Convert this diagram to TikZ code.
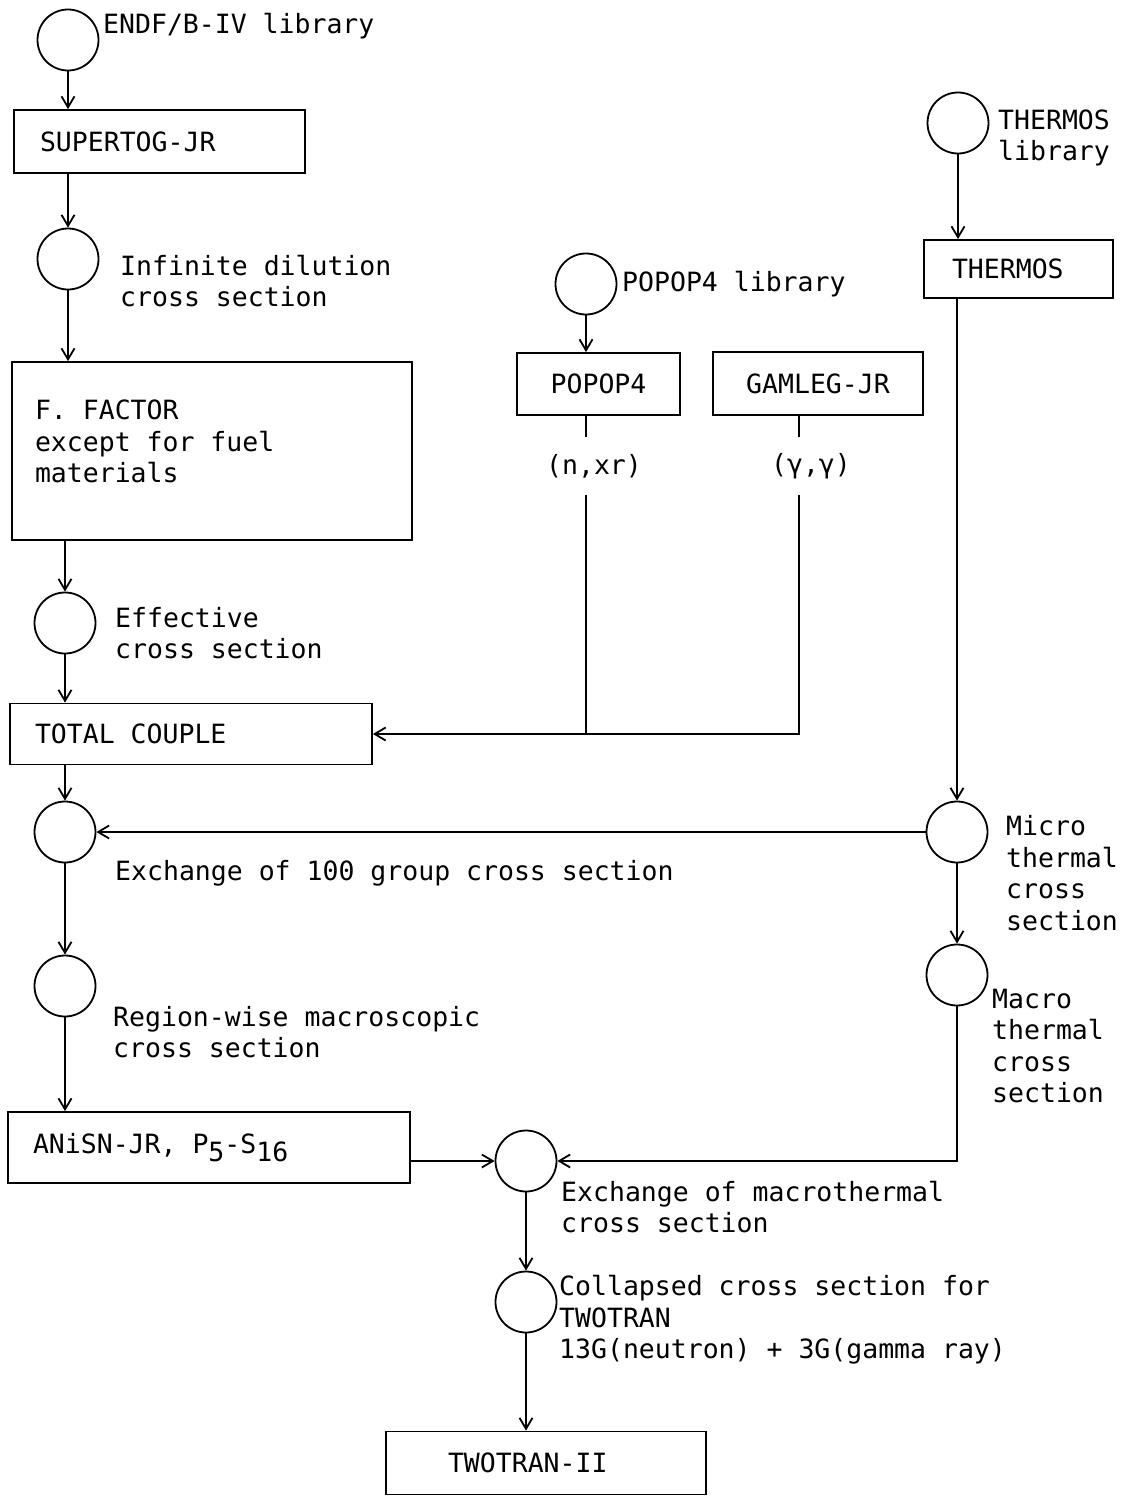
\documentclass[tikz,border=0pt]{standalone}
\usepackage{fontspec}
\newfontfamily\monof[WordSpace={1,0,0}]{DejaVu Sans Mono}
\usetikzlibrary{arrows.meta}
\newcommand\fixsp{\spaceskip=0pt\xspaceskip=0pt\frenchspacing\relax}
\begin{document}
\begin{tikzpicture}[x=1pt,y=-1pt,
 every node/.style={font=\monof\fontsize{26.5}{31.5}\selectfont},
 ln/.style={line width=1.8pt},
 arr/.style={ln,-{Straight Barb[length=11pt,width=13pt]}},
 circ/.style={draw,ln,circle,minimum size=61pt,inner sep=0pt},
 box/.style={draw,ln,inner sep=0pt,align=left},
 lbl/.style={anchor=west,align=left,inner sep=0pt}]
\useasboundingbox (0,0) rectangle (1125,1496);
% left column
\node[circ] (c1) at (68,40) {};
\node[lbl] (t1) at (103,26) {ENDF/B-IV library};
\node[box,minimum width=291,minimum height=63,text width=239,inner xsep=26] (sup) at (159.5,141.5) {\fixsp SUPERTOG-JR};
\node[circ] (c2) at (68,259) {};
\node[lbl] (t2) at (120,281) {Infinite dilution\\cross section};
\node[box,minimum width=400,minimum height=178,text width=354,inner xsep=23] (ff) at (212,451) {\fixsp F. FACTOR\\except for fuel\\materials\\[-12pt]\mbox{}};
\node[circ] (c3) at (65,623) {};
\node[lbl] (t3) at (115,633) {Effective\\cross section};
\node[box,minimum width=362,minimum height=61,text width=312,inner xsep=25] (tot) at (191,734) {\fixsp TOTAL COUPLE};
\node[circ] (c4) at (65,832) {};
\node[lbl] (t4) at (115,873) {Exchange of 100 group cross section};
\node[circ] (c5) at (65,986) {};
\node[lbl] (t5) at (113,1032) {Region-wise macroscopic\\cross section};
\node[box,minimum width=402,minimum height=71,text width=352,inner xsep=25] (an) at (209,1147.5) {\fixsp ANiSN-JR, P\raisebox{-8pt}{5}-S\raisebox{-8pt}{16}};
\node[circ] (c6) at (526,1161) {};
\node[lbl] (t6) at (561,1207) {Exchange of macrothermal\\cross section};
\node[circ] (c7) at (526,1302) {};
\node[lbl] (t7) at (559,1320) {Collapsed cross section for\\TWOTRAN\\13G(neutron) + 3G(gamma ray)};
\node[box,minimum width=320,minimum height=63,text width=196,inner xsep=62] (tw) at (546,1463) {\fixsp TWOTRAN-II};
% right column
\node[circ] (c8) at (958,123) {};
\node[lbl] (t8) at (998,138) {THERMOS\\library};
\node[box,minimum width=189,minimum height=58,text width=133,inner xsep=28] (th) at (1018.5,269) {\fixsp THERMOS};
\node[circ] (c9) at (957,832) {};
\node[lbl] (t9) at (1006,873) {Micro\\thermal\\cross\\section};
\node[circ] (c10) at (957,975) {};
\node[lbl] (t10) at (992,1046) {Macro\\thermal\\cross\\section};
% middle
\node[circ] (c11) at (586,284) {};
\node[lbl] (t11) at (622,284) {POPOP4 library};
\node[box,minimum width=163,minimum height=62] (pp) at (598.5,384) {POPOP4};
\node[box,minimum width=210,minimum height=63] (gl) at (818,383.5) {GAMLEG-JR};
\node[inner sep=0pt,minimum height=58] (nx) at (594,466) {(n,xr)};
\node[inner sep=0pt,minimum height=58] (gg) at (811,466) {(γ,γ)};
\coordinate (pj) at (586,734);
\coordinate (gj) at (799,734);
% connectors
\draw[arr] (c1.south) -- (c1.south |- sup.north);
\draw[arr] (sup.south -| c2) -- (c2.north);
\draw[arr] (c2.south) -- (c2.south |- ff.north);
\draw[arr] (ff.south -| c3) -- (c3.north);
\draw[arr] (c3.south) -- (c3.south |- tot.north);
\draw[arr] (tot.south -| c4) -- (c4.north);
\draw[arr] (c4.south) -- (c5.north);
\draw[arr] (c5.south) -- (c5.south |- an.north);
\draw[arr] (an.east |- c6) -- (c6.west);
\draw[arr] (c6.south) -- (c7.north);
\draw[arr] (c7.south) -- (c7.south |- tw.north);
\draw[arr] (c8.south) -- (c8.south |- th.north);
\draw[arr] (th.south -| c9) -- (c9.north);
\draw[arr] (c9.west) -- (c4.east);
\draw[arr] (c9.south) -- (c10.north);
\draw[arr] (c10.south) |- (c6.east);
\draw[arr] (c11.south) -- (c11.south |- pp.north);
\draw[ln] (pp.south -| pj) -- (nx.north -| pj);
\draw[ln] (gl.south -| gj) -- (gg.north -| gj);
\draw[ln] (nx.south -| pj) -- (pj);
\draw[arr] (gg.south -| gj) |- (tot.east);
\end{tikzpicture}
\end{document}
